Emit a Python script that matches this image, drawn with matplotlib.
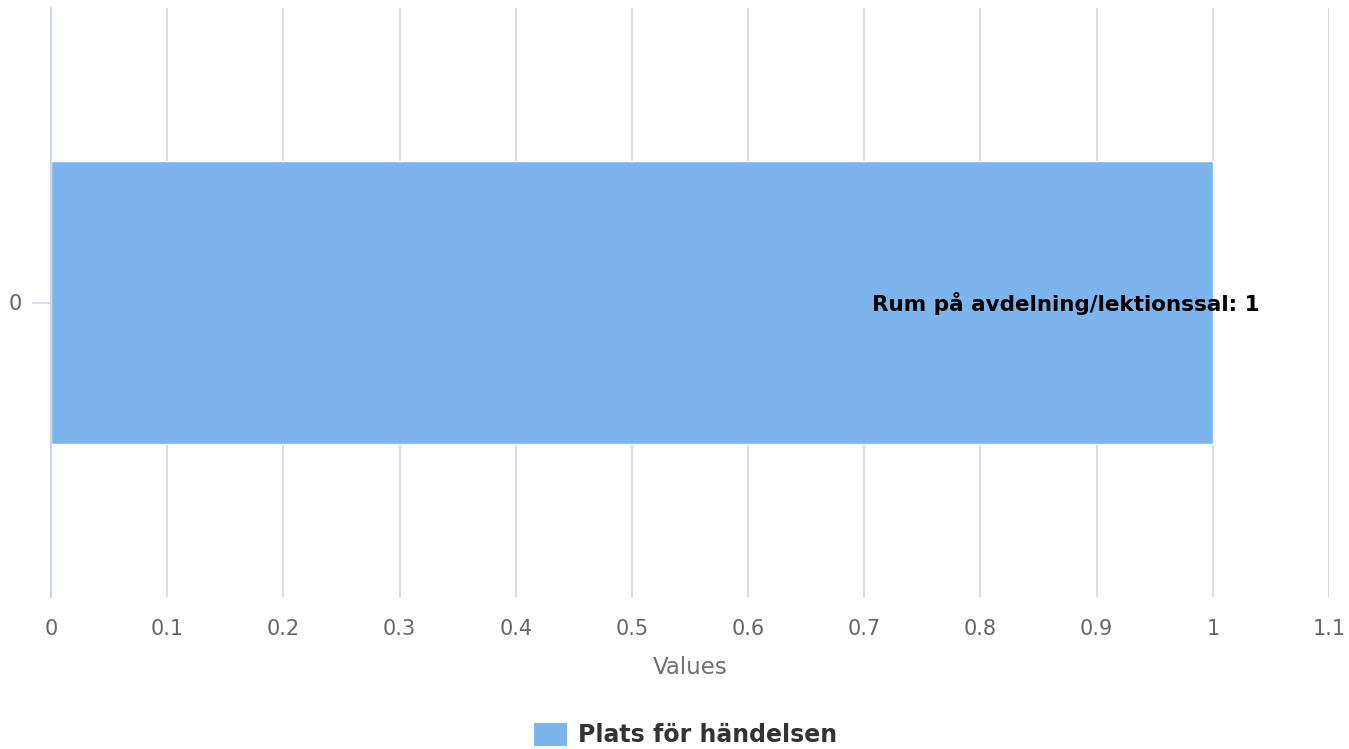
import matplotlib
matplotlib.use("Agg")
import matplotlib.pyplot as plt
from matplotlib.patches import Patch

plt.rcParams["font.family"] = ["DejaVu Sans"]

categories = ["0"]
values = [1]
bar_labels = ["Rum på avdelning/lektionssal"]
series_name = "Plats för händelsen"
xticks = [0, 0.1, 0.2, 0.3, 0.4, 0.5, 0.6, 0.7, 0.8, 0.9, 1, 1.1]
xtick_labels = ["0", "0.1", "0.2", "0.3", "0.4", "0.5", "0.6", "0.7", "0.8", "0.9", "1", "1.1"]

bar_color = "#7cb5ec"
grid_color = "#dcdcdc"
axis_color = "#ccd6eb"
text_color = "#666666"

fig = plt.figure(figsize=(13.49, 7.49), dpi=100)
ax = fig.add_axes([51/1349, (749-597)/749, (1329-51)/1349, (597-8)/749])

pos = list(range(len(categories)))
ax.barh(pos, values, height=0.48, color=bar_color, edgecolor="white", linewidth=1, zorder=2)

# value label at the end of the bar
for p, v, lab in zip(pos, values, bar_labels):
    ax.annotate(f"{lab}: {v}", xy=(v, p), xytext=(34, -1), textcoords="offset points",
                ha="right", va="center", fontsize=15.5, fontweight="bold", color="black", zorder=3)

ax.set_xlim(0, 1.1)
ax.set_ylim(-0.5, 0.5)
ax.set_xticks(xticks)
ax.set_xticklabels(xtick_labels)
ax.set_yticks(pos)
ax.set_yticklabels(categories)

ax.grid(axis="x", color=grid_color, linewidth=1.5, zorder=0)
ax.grid(axis="y", visible=False)
ax.set_axisbelow(True)

for s in ["top", "right", "bottom"]:
    ax.spines[s].set_visible(False)
ax.spines["left"].set_color(axis_color)
ax.spines["left"].set_linewidth(1.5)

ax.tick_params(axis="x", length=0, pad=16, labelsize=15, labelcolor=text_color)
ax.tick_params(axis="y", length=14, width=1.2, color=axis_color, pad=7, labelsize=15, labelcolor=text_color)

ax.set_xlabel("Values", fontsize=16.5, color="#707070", labelpad=12)

handles = [Patch(facecolor=bar_color, edgecolor="none")]
fig.legend(handles, [series_name], loc="lower center", bbox_to_anchor=(0.508, -0.026),
           frameon=False, prop={"weight": "bold", "size": 17}, labelcolor="#333333",
           handlelength=1.4, handleheight=1.15, handletextpad=0.45)

fig.savefig("out.png", dpi=100)
